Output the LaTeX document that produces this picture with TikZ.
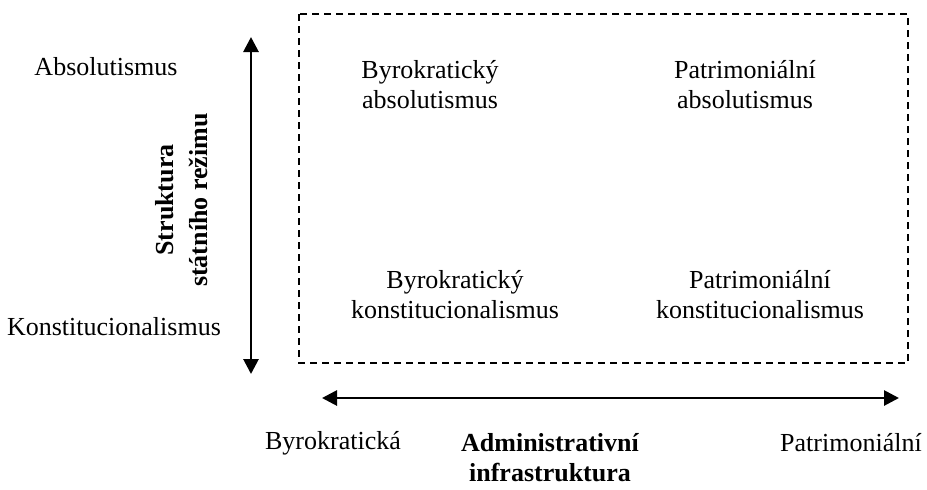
\documentclass[tikz,border=0pt]{standalone}
\usepackage{fontspec}
\setmainfont{Liberation Serif}
\usetikzlibrary{arrows.meta}

\begin{document}
\begin{tikzpicture}[x=0.5pt,y=-0.5pt,
    lbl/.style={font=\fontsize{13}{15}\selectfont,align=center,inner sep=0pt},
    axis/.style={{Triangle[length=7.5pt,width=7.5pt]}-{Triangle[length=7.5pt,width=7.5pt]},line width=1.4pt}]
    \useasboundingbox (0,0) rectangle (927,489);
    % dashed frame of the four types
    \draw[line width=0.6pt,dash pattern=on 3.5pt off 2.5pt] (299,14) rectangle (908,363);
    \node[lbl] (ba) at (430,85) {Byrokratický\\absolutismus};
    \node[lbl] (pa) at (745,85) {Patrimoniální\\absolutismus};
    \node[lbl] (bk) at (455,295) {Byrokratický\\konstitucionalismus};
    \node[lbl] (pk) at (760,295) {Patrimoniální\\konstitucionalismus};
    % vertical axis
    \coordinate (vtop) at (251,37);
    \coordinate (vbot) at (251,374);
    \draw[axis] (vtop) -- (vbot);
    \node[lbl] (abs) at (106,67) {Absolutismus};
    \node[lbl] (kon) at (114,327) {Konstitucionalismus};
    \node[lbl,font=\fontsize{13}{17}\selectfont\bfseries,rotate=90] (srez) at (182,200) {Struktura\\státního režimu};
    % horizontal axis
    \coordinate (hleft) at (322,398);
    \coordinate (hright) at (899,398);
    \draw[axis] (hleft) -- (hright);
    \node[lbl] (byr) at (333,443) {Byrokratická};
    \node[lbl] (pat) at (851,443) {Patrimoniální};
    \node[lbl,font=\fontsize{13}{15}\selectfont\bfseries] (ainf) at (550,458) {Administrativní\\infrastruktura};
\end{tikzpicture}
\end{document}
